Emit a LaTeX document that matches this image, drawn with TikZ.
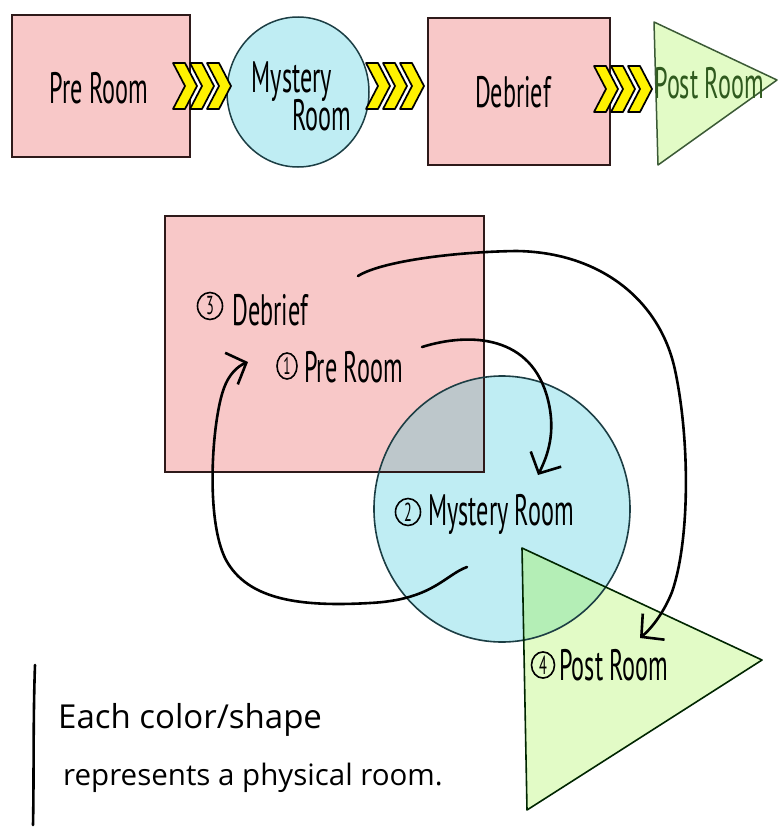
\documentclass[tikz,border=0pt]{standalone}
\usepackage{fontspec}
\setmainfont{Open Sans}
\newfontfamily\hand[FakeStretch=0.55]{PT Sans}
\newfontfamily\legendfont{Open Sans}
\usetikzlibrary{arrows.meta,shapes.geometric}
\definecolor{roompink}{HTML}{F8C8C8}
\definecolor{roomcyan}{HTML}{BFEDF3}
\definecolor{roomgreen}{HTML}{E2FBC6}
\definecolor{mixgray}{HTML}{BDC7CB}
\definecolor{mixgreen}{HTML}{B4EEB6}
\definecolor{chevyellow}{HTML}{FFF200}
\definecolor{pinkline}{HTML}{2E1A1A}
\definecolor{tealline}{HTML}{1C3E44}
\definecolor{greenline}{HTML}{3B5A36}
\definecolor{posttext}{HTML}{2F5A1E}
\tikzset{
  pinkroom/.style={draw=pinkline, line width=1.5pt, fill=roompink, inner sep=0pt},
  cyanroom/.style={draw=tealline, line width=1.5pt, fill=roomcyan, ellipse, inner sep=0pt},
  hlabel/.style={font=\hand\fontsize{44}{44}\selectfont, inner sep=0pt, anchor=base},
  numlabel/.style={ellipse, draw=black, line width=1.6pt, inner sep=0pt,
    minimum width=25pt, minimum height=27pt,
    font=\hand\fontsize{26}{26}\selectfont, anchor=center},
  legendtext/.style={font=\legendfont\fontsize{28}{30}\selectfont, inner sep=0pt, anchor=base west},
  chevron/.style={draw=black, line width=1.7pt, fill=chevyellow, line join=round},
  conn/.style={line width=2.6pt, line cap=round,
    -{Straight Barb[length=16pt,width=34pt,line width=2.6pt]}},
  chevs/.pic={
    \foreach \i in {0,1,2} {
      \filldraw[chevron] (\i*17,0) -- ++(12,0) -- ++(12,23) -- ++(-12,23)
        -- ++(-12,0) -- ++(12,-23) -- cycle;
    }
  }
}
\begin{document}
\begin{tikzpicture}[x=1pt,y=-1pt]
\useasboundingbox (0,0) rectangle (778,827);
\fill[white] (0,0) rectangle (778,827);

% ---------- top row ----------
\node[pinkroom, minimum width=178pt, minimum height=142pt] (pre) at (101,86) {};
\node[cyanroom, minimum width=142pt, minimum height=150pt] (mys) at (298,92) {};
\node[pinkroom, minimum width=182pt, minimum height=147pt] (deb) at (519,91.5) {};
\coordinate (pt1) at (654,22);
\coordinate (pt2) at (777,80);
\coordinate (pt3) at (658,165);
\filldraw[draw=greenline, line width=1.5pt, fill=roomgreen, line join=round] (pt1) -- (pt2) -- (pt3) -- cycle;

\pic at (173,63) {chevs};
\pic at (366,63) {chevs};
\pic at (594,66) {chevs};

\node[hlabel] (preL) at (99,103) {Pre Room};
\node[hlabel] (mysL1) at (292,92) {Mystery};
\node[hlabel] (mysL2) at (322,130) {Room};
\node[hlabel] (debL) at (513,107) {Debrief};
\node[hlabel, text=posttext] (pstL) at (709,98) {Post Room};

% ---------- bottom diagram ----------
\coordinate (r1) at (165,216);
\coordinate (r2) at (484,472);
\coordinate (cc) at (502,509);
\coordinate (t1) at (522,548);
\coordinate (t2) at (762,660);
\coordinate (t3) at (527,810);

\fill[roompink] (r1) rectangle (r2);
\fill[roomcyan] (cc) ellipse [x radius=128, y radius=133];
\fill[roomgreen] (t1) -- (t2) -- (t3) -- cycle;
\begin{scope}
  \clip (r1) rectangle (r2);
  \fill[mixgray] (cc) ellipse [x radius=128, y radius=133];
\end{scope}
\begin{scope}
  \clip (t1) -- (t2) -- (t3) -- cycle;
  \fill[mixgreen] (cc) ellipse [x radius=128, y radius=133];
\end{scope}
\draw[draw=pinkline, line width=1.6pt] (r1) rectangle (r2);
\draw[draw=tealline, line width=1.6pt] (cc) ellipse [x radius=128, y radius=133];
\draw[draw=black!85!green, line width=1.6pt, line join=round] (t1) -- (t2) -- (t3) -- cycle;

\node[numlabel] (n3) at (210,306) {3};
\node[hlabel, anchor=base west] (debB) at (232,325) {Debrief};
\node[numlabel, minimum width=20pt, minimum height=26pt, font=\hand\fontsize{24}{24}\selectfont] (n1) at (287,366) {1};
\node[hlabel, anchor=base west] (preB) at (304,382) {Pre Room};
\node[numlabel] (n2) at (408,512) {2};
\node[numlabel, minimum width=23pt, minimum height=26pt] (n4) at (543,665) {4};
\node[hlabel, anchor=base west] (mysB) at (428,525) {Mystery Room};
\node[hlabel, anchor=base west] (pstB) at (559,680) {Post Room};

% connectors
\coordinate (a1s) at (422,347);
\coordinate (a1e) at (538,475);
\draw[conn] (a1s) .. controls (470,332) and (532,335) .. (548,400)
  .. controls (556,432) and (548,455) .. (a1e);

\coordinate (a2s) at (467,567);
\coordinate (a2e) at (248,362);
\draw[conn] (a2s) .. controls (445,575) and (432,600) .. (370,603)
  .. controls (300,607) and (248,600) .. (226,560)
  .. controls (205,520) and (212,420) .. (224,388)
  .. controls (229,374) and (238,366) .. (a2e);

\coordinate (a3s) at (358,276);
\coordinate (a3e) at (640,638);
\draw[conn] (a3s) .. controls (380,262) and (450,252) .. (516,251)
  .. controls (600,252) and (660,300) .. (675,370)
  .. controls (690,440) and (690,540) .. (672,592)
  .. controls (664,612) and (652,628) .. (a3e);

% ---------- legend ----------
\coordinate (lg1) at (35,665);
\coordinate (lg2) at (33,825);
\draw[line width=2.6pt, line cap=round] (lg1) .. controls (33,720) and (34,780) .. (lg2);
\node[legendtext, font=\legendfont\fontsize{33}{35}\selectfont] (leg1) at (58,728) {Each color/shape};
\node[legendtext, font=\legendfont\fontsize{29.5}{32}\selectfont] (leg2) at (63,785) {represents a physical room.};
\end{tikzpicture}
\end{document}
